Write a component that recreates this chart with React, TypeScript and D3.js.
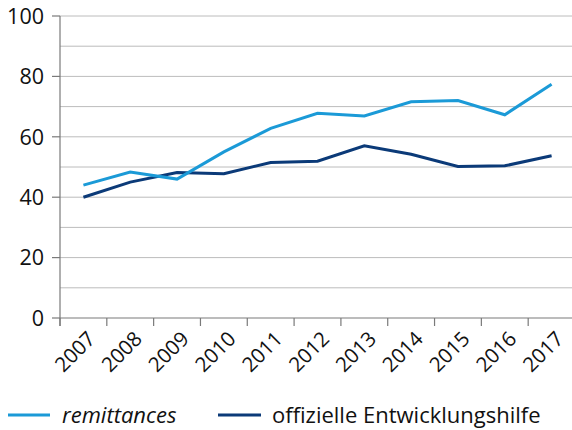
import React from "react";
import * as d3 from "d3";

const years = ["2007","2008","2009","2010","2011","2012","2013","2014","2015","2016","2017"];
const remittances = [44, 48.3, 46, 55, 62.8, 67.8, 66.9, 71.6, 72, 67.3, 77.4];
const oda = [40, 45, 48.2, 47.8, 51.5, 51.9, 57, 54.2, 50.2, 50.4, 53.7];
const yTicks = [0, 20, 40, 60, 80, 100];
const gridValues = [10, 20, 30, 40, 50, 60, 70, 80, 90, 100];

export default function App() {
  const W = 572, H = 430;
  const left = 60, right = 575, top = 16, bottom = 318;
  const x = d3.scaleBand().domain(years).range([left, right]);
  const y = d3.scaleLinear().domain([0, 100]).range([bottom, top]);
  const line = (vals: number[]) =>
    d3.line<number>().x((_, i) => (x(years[i]) as number) + x.bandwidth() / 2).y(d => y(d))(vals) as string;
  const font = "'Open Sans', 'DejaVu Sans', sans-serif";
  return (
    <svg width={W} height={H} style={{ position: "absolute", left: 0, top: 0 }}>
      <rect width={W} height={H} fill="#fff" />
      {gridValues.map(v => (
        <line key={v} x1={left} x2={W} y1={y(v)} y2={y(v)} stroke="#bcbcbc" strokeWidth={1} />
      ))}
      <line x1={left} x2={left} y1={top} y2={bottom + 8} stroke="#7a7a7a" strokeWidth={1.2} />
      <line x1={left} x2={W} y1={bottom} y2={bottom} stroke="#7a7a7a" strokeWidth={1.2} />
      {yTicks.map(v => (
        <g key={v}>
          <line x1={left - 8} x2={left} y1={y(v)} y2={y(v)} stroke="#7a7a7a" strokeWidth={1.2} />
          <text x={left - 16} y={y(v)} dy="0.36em" textAnchor="end" fontSize={21.5} fontFamily={font} fill="#111">{v}</text>
        </g>
      ))}
      {years.map((yr) => (
        <line key={"t" + yr} x1={(x(yr) as number)} x2={(x(yr) as number)} y1={bottom} y2={bottom + 8} stroke="#7a7a7a" strokeWidth={1.2} />
      ))}
      <line x1={right} x2={right} y1={bottom} y2={bottom + 8} stroke="#7a7a7a" strokeWidth={1.2} />
      {years.map(yr => {
        const cx = (x(yr) as number) + x.bandwidth() / 2 + 3;
        const cy = bottom + 12;
        return (
          <text key={"l" + yr} x={cx} y={cy} dy="0.7em" textAnchor="end" fontSize={20.5} fontFamily={font} fill="#111"
            transform={`rotate(-45 ${cx} ${cy})`}>{yr}</text>
        );
      })}
      <path d={line(oda)} fill="none" stroke="#0b3a78" strokeWidth={3} />
      <path d={line(remittances)} fill="none" stroke="#1b9ad7" strokeWidth={3} />
      <line x1={8} x2={50} y1={415} y2={415} stroke="#1b9ad7" strokeWidth={3} />
      <text x={62} y={415} dy="0.36em" fontSize={22} fontStyle="italic" fontFamily={font} fill="#111">remittances</text>
      <line x1={218} x2={261} y1={415} y2={415} stroke="#0b3a78" strokeWidth={3} />
      <text x={272} y={415} dy="0.36em" fontSize={22} fontFamily={font} fill="#111">offizielle Entwicklungshilfe</text>
    </svg>
  );
}
